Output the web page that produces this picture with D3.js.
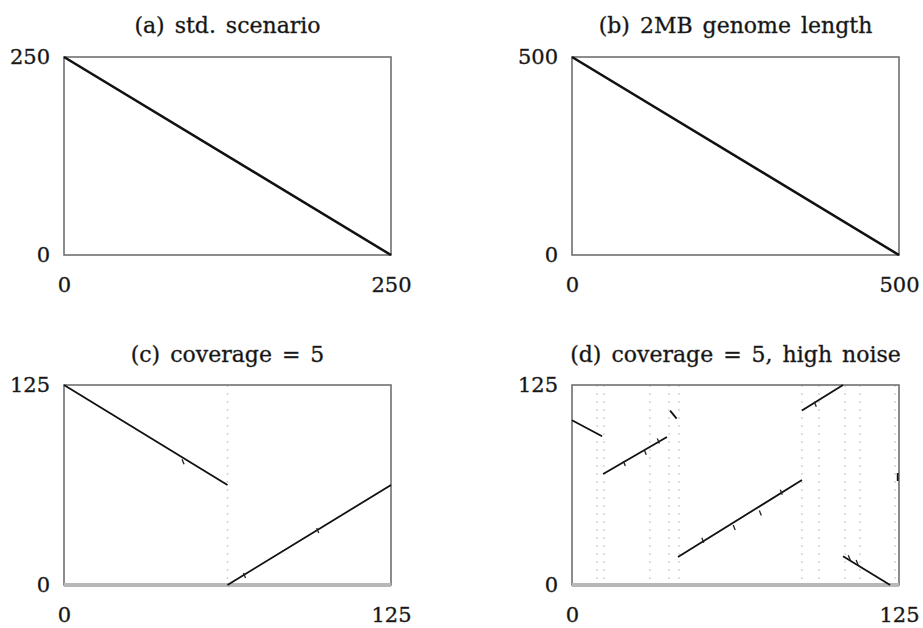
<!DOCTYPE html>
<html>
<head>
<meta charset="utf-8">
<script src="https://cdn.jsdelivr.net/npm/d3@7"></script>
<style>
  body { margin: 0; background: #fff; }
  text { font-family: "DejaVu Serif", "Liberation Serif", serif; fill: #111; stroke: #333; stroke-width: 0.35px; }
  .panel-title { font-size: 22px; word-spacing: 3px; }
  .tick text { font-size: 21px; }
</style>
</head>
<body>
<div id="chart"></div>
<script>
// Panel titles and axis ranges
const panelTitles = ["(a) std. scenario",
                     "(b) 2MB genome length",
                     "(c) coverage = 5",
                     "(d) coverage = 5, high noise"];
const panelMax = [250, 500, 125, 125];

// Aligned segments: [x0, y0, x1, y1]
const stdSegments = [[0, 250, 250, 0]];
const genomeSegments = [[0, 500, 500, 0]];
const cov5Segments = [[0, 125, 62.5, 62.5], [62.5, 0, 125, 62.5]];
const noiseSegments = [[0, 103, 11.5, 93],
                       [11.9, 69.4, 36.3, 92.5],
                       [37.5, 109, 40, 104],
                       [40.5, 17.5, 87.9, 65.6],
                       [87.9, 109, 103.6, 125],
                       [103.6, 18, 121.6, 0],
                       [124.5, 70, 124.5, 65]];

// Contig breaks (dotted verticals)
const stdBreaks = [];
const genomeBreaks = [];
const cov5Breaks = [62.5];
const noiseBreaks = [9.6, 12.2, 29.8, 37.1, 40.9, 87.9, 94.4, 104.4, 110.1, 123.5];

// Small noisy hits along the lines: [x, y]
const stdBlips = [];
const genomeBlips = [];
const cov5Blips = [[45.5, 77], [97, 34], [69, 6]];
const noiseBlips = [[20, 76], [28, 83], [33, 90], [50, 28], [62, 36],
                    [72, 45], [80, 58], [93, 113], [106, 17], [109, 14]];

const panelSegments = [stdSegments, genomeSegments, cov5Segments, noiseSegments];
const panelBreaks = [stdBreaks, genomeBreaks, cov5Breaks, noiseBreaks];
const panelBlips = [stdBlips, genomeBlips, cov5Blips, noiseBlips];

const width = 923, height = 628;
// box positions of the four plots
const boxes = [
    {left: 64, top: 57, right: 391, bottom: 255},
    {left: 572, top: 57, right: 899, bottom: 255},
    {left: 64, top: 385, right: 391, bottom: 585},
    {left: 572, top: 385, right: 899, bottom: 585}
];

const svg = d3.select("#chart").append("svg")
    .attr("width", width)
    .attr("height", height);

boxes.forEach((box, i) => {
    const w = box.right - box.left;
    const h = box.bottom - box.top;
    const g = svg.append("g").attr("transform", `translate(${box.left}, ${box.top})`);

    const x = d3.scaleLinear().domain([0, panelMax[i]]).range([0, w]);
    const y = d3.scaleLinear().domain([0, panelMax[i]]).range([h, 0]);

    // dotted contig breaks
    g.selectAll("line.break")
        .data(panelBreaks[i])
        .enter()
        .append("line")
        .attr("class", "break")
        .attr("x1", d => x(d)).attr("x2", d => x(d))
        .attr("y1", 0).attr("y2", h)
        .attr("stroke", "#cfcfcf")
        .attr("stroke-width", 1.3)
        .attr("stroke-dasharray", "2,6");

    // frame
    g.append("rect")
        .attr("width", w).attr("height", h)
        .attr("fill", "none")
        .attr("stroke", "#707070")
        .attr("stroke-width", 1.6);

    // lower panels have a gray band along y = 0
    if (i >= 2) {
        g.append("line")
            .attr("x1", 0).attr("x2", w)
            .attr("y1", y(0)).attr("y2", y(0))
            .attr("stroke", "#b8b8b8")
            .attr("stroke-width", 4);
    }

    // segments
    g.selectAll("line.seg")
        .data(panelSegments[i])
        .enter()
        .append("line")
        .attr("class", "seg")
        .attr("x1", d => x(d[0])).attr("y1", d => y(d[1]))
        .attr("x2", d => x(d[2])).attr("y2", d => y(d[3]))
        .attr("stroke", "#111")
        .attr("stroke-width", i < 2 ? 2.6 : 1.8);

    // noise ticks
    g.selectAll("line.blip")
        .data(panelBlips[i])
        .enter()
        .append("line")
        .attr("class", "blip")
        .attr("x1", d => x(d[0]) - 1).attr("y1", d => y(d[1]) - 2.5)
        .attr("x2", d => x(d[0]) + 1).attr("y2", d => y(d[1]) + 2.5)
        .attr("stroke", "#222")
        .attr("stroke-width", 1.3);

    // axes: only the end ticks are labelled
    const xAxis = d3.axisBottom(x).tickValues([0, panelMax[i]]).tickSize(0).tickPadding(22);
    const yAxis = d3.axisLeft(y).tickValues([0, panelMax[i]]).tickSize(0).tickPadding(14);

    g.append("g")
        .attr("transform", `translate(0, ${h})`)
        .call(xAxis)
        .call(a => a.select(".domain").remove());

    g.append("g")
        .call(yAxis)
        .call(a => a.select(".domain").remove());

    // title
    g.append("text")
        .attr("class", "panel-title")
        .attr("x", w / 2)
        .attr("y", i < 2 ? -24 : -23)
        .attr("text-anchor", "middle")
        .text(panelTitles[i]);
});
</script>
</body>
</html>
